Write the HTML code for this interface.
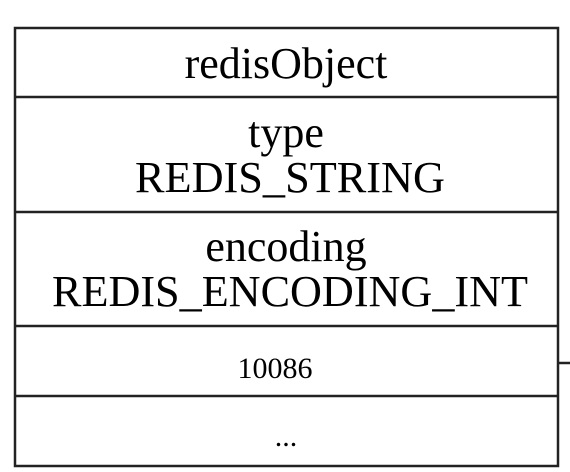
<!DOCTYPE html>
<html><head><style>html,body{margin:0;padding:0;background:#fff;}svg{display:block}</style></head>
<body>
<svg width="570" height="472" xmlns="http://www.w3.org/2000/svg" font-family="Liberation Serif, serif" fill="#000">
<rect width="570" height="472" fill="#fff"/>
<g stroke="#222" stroke-width="2.5" fill="none">
<rect x="15" y="28" width="543" height="438"/>
<line x1="15" y1="97" x2="558" y2="97"/>
<line x1="15" y1="212" x2="558" y2="212"/>
<line x1="15" y1="326" x2="558" y2="326"/>
<line x1="15" y1="396" x2="558" y2="396"/>
<line x1="558" y1="363" x2="570" y2="363"/>
</g>
<g text-anchor="middle" font-size="44">
<text x="286" y="78">redisObject</text>
<text x="286" y="147">type</text>
<text x="290" y="192" textLength="310" lengthAdjust="spacingAndGlyphs">REDIS_STRING</text>
<text x="286" y="261">encoding</text>
<text x="290" y="306" textLength="476" lengthAdjust="spacingAndGlyphs">REDIS_ENCODING_INT</text>
<text x="275" y="378" font-size="30">10086</text>
<text x="286" y="446" font-size="30">...</text>
</g>
</svg>
</body></html>
